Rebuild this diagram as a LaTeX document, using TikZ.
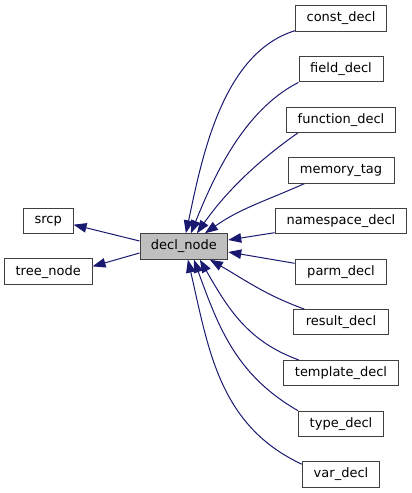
\documentclass[tikz,border=0pt]{standalone}
\usepackage{fontspec}
\setmainfont{DejaVu Sans}
\usetikzlibrary{arrows.meta}
\definecolor{edgeblue}{HTML}{191970}
\definecolor{boxline}{HTML}{404040}
\definecolor{boxfill}{HTML}{BFBFBF}
\tikzset{
  cls/.style={draw=boxline, line width=1pt, fill=white, minimum height=25.4pt, inner sep=0pt, font=\fontsize{13}{15}\selectfont},
  inh/.style={draw=edgeblue, line width=1pt, -{Triangle[length=13pt,width=9.5pt]}}
}
\begin{document}
\begin{tikzpicture}[x=1pt,y=1pt]
\useasboundingbox (0,0) rectangle (412,493);
\node[cls, fill=boxfill, minimum width=87.7pt] (decl) at (183.9,246.5) {decl\_node};
\node[cls, minimum width=49.7pt] (srcp) at (48.2,272) {srcp};
\node[cls, minimum width=87.7pt] (tree) at (48.2,221.3) {tree\_node};
\foreach \n/\t/\y/\w in {const/const\_decl/474.5/91, field/field\_decl/423.8/84, function/function\_decl/373.1/109.7, memory/memory\_tag/322.6/106, namespace/namespace\_decl/272/131.7, parm/parm\_decl/221/91.7, result/result\_decl/170.7/94.3, template/template\_decl/119.8/115.4, type/type\_decl/69.1/85, var/var\_decl/18.6/77.4}
  \node[cls, minimum width=\w pt] (\n) at (341,\y) {\t};
\draw[inh] ([yshift=5.5pt]decl.west) -- ([yshift=-3.7pt]srcp.east);
\draw[inh] ([yshift=-6.5pt]decl.west) -- ([yshift=5.3pt]tree.east);
\draw[inh] ([yshift=1pt]const.south west) to[out=197, in=78, looseness=0.85] ([xshift=2pt]decl.north);
\draw[inh] (field.south west) to[out=207, in=68, looseness=0.85] ([xshift=7pt]decl.north);
\draw[inh] ([xshift=12pt]function.south west) to[out=215, in=55, looseness=0.9] ([xshift=13pt]decl.north);
\draw[inh] ([xshift=17pt]memory.south west) to[out=204, in=35] ([xshift=21pt]decl.north);
\draw[inh] ([yshift=1.5pt]namespace.south west) -- ([yshift=6.5pt]decl.east);
\draw[inh] ([yshift=8.7pt]parm.west) -- ([yshift=-5.5pt]decl.east);
\draw[inh] ([xshift=11pt]result.north west) to[out=160, in=330] ([xshift=26pt]decl.south);
\draw[inh] ([xshift=16pt]template.north west) to[out=160, in=300] ([xshift=16pt]decl.south);
\draw[inh] (type.north west) to[out=150, in=290] ([xshift=10pt]decl.south);
\draw[inh] ([yshift=-3pt]var.north west) to[out=155, in=283] ([xshift=4pt]decl.south);
\end{tikzpicture}
\end{document}
